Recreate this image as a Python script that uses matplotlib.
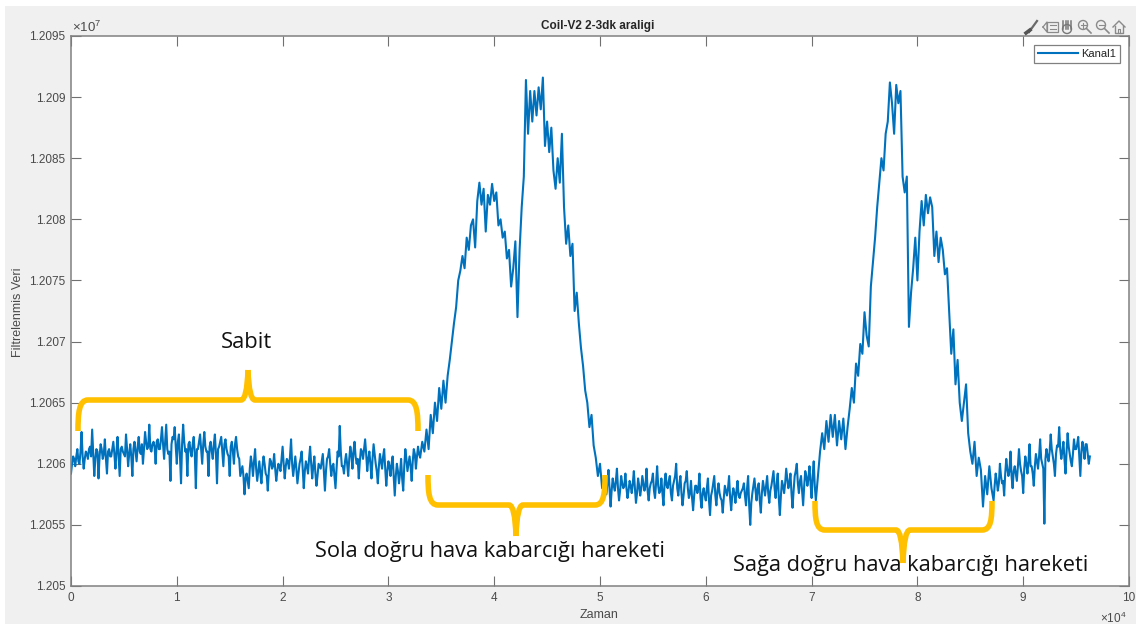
import numpy as np
import matplotlib
matplotlib.use('Agg')
import matplotlib.pyplot as plt
from matplotlib.patches import Rectangle, PathPatch, Circle
from matplotlib.path import Path

plt.rcParams['font.family'] = ['Liberation Sans', 'DejaVu Sans']
plt.rcParams['mathtext.default'] = 'regular'

# Kanal1 values, in hundreds of counts
# flat parts: two lists that take turns, one value every 100 samples
sabit = [
    120592, 120606, 120598, 120612, 120600, 120626, 120596, 120610, 120604, 120614,
    120628, 120590, 120612, 120588, 120616, 120604, 120620, 120592, 120612, 120606,
    120618, 120596, 120622, 120590, 120614, 120608, 120624, 120598, 120616, 120590,
    120618, 120602, 120622, 120608, 120600, 120626, 120612, 120632, 120610, 120618,
    120600, 120620, 120612, 120630, 120604, 120632, 120608, 120586, 120622, 120630,
    120600, 120624, 120584, 120632, 120610, 120590, 120618, 120606, 120622, 120580,
    120612, 120624, 120600, 120626, 120610, 120590, 120618, 120604, 120624, 120584,
    120614, 120622, 120598, 120620, 120608, 120590, 120618, 120600, 120622, 120606,
    120590, 120598, 120575, 120592, 120580, 120606, 120590, 120612, 120586, 120602,
    120584, 120606, 120592, 120578, 120604, 120596, 120608, 120586, 120600, 120594,
    120614, 120588, 120604, 120596, 120620, 120590, 120606, 120584, 120600, 120610,
    120580, 120602, 120592, 120614, 120588, 120606, 120582, 120600, 120596, 120608,
    120578, 120604, 120612, 120590, 120600, 120580, 120610, 120631, 120598, 120592,
    120608, 120590, 120614, 120596, 120618, 120600, 120588, 120612, 120604, 120620,
    120594, 120610, 120588, 120616, 120600, 120584, 120608, 120596, 120612, 120582,
    120602, 120590, 120606, 120574, 120600, 120584, 120604, 120578, 120612, 120594,
    120606, 120586, 120612, 120596, 120614,
]
sabit_ek = [
    120600, 120604, 120606, 120602, 120610, 120606, 120604, 120608, 120612, 120606,
    120608, 120604, 120610, 120606, 120612, 120608, 120604, 120610, 120606, 120612,
    120608, 120610, 120606, 120612, 120610, 120606, 120612, 120608, 120606, 120612,
    120610, 120614, 120610, 120616, 120612, 120618, 120614, 120612, 120616, 120614,
    120618, 120612, 120620, 120616, 120618, 120612, 120610, 120616, 120620, 120614,
    120618, 120606, 120616, 120618, 120612, 120616, 120610, 120616, 120608, 120612,
    120618, 120612, 120616, 120614, 120610, 120614, 120610, 120616, 120608, 120612,
    120618, 120610, 120616, 120612, 120606, 120614, 120610, 120616, 120612, 120604,
    120594, 120590, 120588, 120586, 120596, 120600, 120602, 120596, 120594, 120592,
    120598, 120600, 120590, 120594, 120602, 120598, 120596, 120594, 120598, 120604,
    120600, 120598, 120602, 120606, 120600, 120598, 120596, 120592, 120604, 120596,
    120594, 120598, 120604, 120600, 120598, 120592, 120590, 120598, 120602, 120594,
    120594, 120606, 120600, 120598, 120590, 120596, 120606, 120610, 120598, 120602,
    120600, 120604, 120608, 120610, 120606, 120604, 120602, 120610, 120612, 120608,
    120604, 120600, 120604, 120608, 120594, 120598, 120602, 120606, 120596, 120594,
    120598, 120600, 120590, 120590, 120594, 120592, 120588, 120598, 120604, 120600,
    120598, 120602, 120608, 120606, 120608,
]
# the two humps: one value every 200 samples
sola = [
    120605, 120618, 120610, 120628, 120612, 120640, 120625, 120650, 120635, 120662,
    120645, 120668, 120650, 120672, 120685, 120700, 120715, 120728, 120750, 120758,
    120770, 120760, 120785, 120775, 120795, 120800, 120777, 120815, 120830, 120812,
    120825, 120790, 120820, 120812, 120829, 120815, 120822, 120795, 120800, 120785,
    120790, 120768, 120775, 120745, 120760, 120782, 120720, 120775, 120810, 120835,
    120914, 120870, 120905, 120880, 120905, 120885, 120908, 120890, 120916, 120860,
    120880, 120855, 120875, 120840, 120825, 120850, 120830, 120870, 120810, 120780,
    120795, 120770, 120780, 120725, 120740, 120715, 120695, 120680, 120660, 120650,
    120630, 120640, 120615, 120605, 120590, 120600, 120580, 120590,
]
ara = [
    120575, 120595, 120565, 120588, 120578, 120596, 120570, 120590, 120580, 120592,
    120572, 120586, 120576, 120594, 120568, 120588, 120574, 120590, 120578, 120596,
    120570, 120584, 120592, 120572, 120598, 120576, 120588, 120566, 120592, 120580,
    120590, 120570, 120586, 120600, 120574, 120590, 120566, 120584, 120594, 120572,
    120586, 120562, 120582, 120576, 120592, 120564, 120580, 120570, 120588, 120558,
    120578, 120590, 120566, 120584, 120572, 120560, 120582, 120574, 120590, 120562,
    120580, 120568, 120586, 120572, 120578, 120584, 120566, 120590, 120550, 120576,
    120588, 120570, 120584, 120560, 120586, 120574, 120590, 120568, 120582, 120594,
    120572, 120592, 120558, 120586, 120576, 120596, 120580, 120592, 120564, 120590,
    120600, 120576, 120590, 120566, 120594, 120582, 120598, 120572, 120602, 120570,
]
ara_ek = [
    120584, 120580, 120578, 120582, 120586, 120580, 120578, 120584, 120582, 120580,
    120578, 120582, 120584, 120580, 120576, 120582, 120580, 120584, 120582, 120578,
    120580, 120586, 120578, 120584, 120582, 120578, 120576, 120584, 120582, 120586,
    120576, 120582, 120590, 120580, 120584, 120576, 120574, 120586, 120580, 120576,
    120572, 120574, 120582, 120580, 120572, 120576, 120574, 120580, 120570, 120574,
    120584, 120574, 120578, 120576, 120570, 120572, 120578, 120580, 120572, 120574,
    120576, 120578, 120574, 120576, 120580, 120574, 120580, 120566, 120568, 120582,
    120578, 120580, 120570, 120576, 120580, 120582, 120576, 120578, 120588, 120580,
    120584, 120572, 120574, 120582, 120584, 120588, 120584, 120576, 120578, 120594,
    120584, 120586, 120578, 120582, 120590, 120588, 120584, 120590, 120582, 120580,
]
saga = [
    120590, 120610, 120625, 120612, 120635, 120618, 120640, 120622, 120640, 120615,
    120635, 120620, 120637, 120612, 120630, 120645, 120662, 120650, 120682, 120672,
    120698, 120690, 120724, 120705, 120696, 120745, 120765, 120785, 120810, 120830,
    120850, 120840, 120870, 120880, 120912, 120895, 120870, 120910, 120895, 120905,
    120835, 120822, 120835, 120712, 120740, 120760, 120785, 120750, 120790, 120815,
    120795, 120820, 120805, 120818, 120810, 120770, 120790, 120765, 120785, 120775,
    120755, 120760, 120725, 120690, 120710, 120665, 120685, 120650, 120635, 120650,
    120665, 120625, 120610, 120600, 120618, 120590, 120605, 120595, 120565, 120590,
    120575, 120598, 120580,
]
son = [
    120570, 120592, 120578, 120600, 120584, 120574, 120604, 120590, 120610, 120580,
    120598, 120586, 120612, 120594, 120576, 120606, 120592, 120616, 120598, 120582,
    120608, 120596, 120620, 120600, 120551, 120612, 120602, 120624, 120606, 120590,
    120615, 120630, 120604, 120618, 120592, 120625, 120608, 120598, 120620, 120612,
    120622, 120590, 120618, 120604, 120616, 120600,
]
son_ek = [
    120582, 120586, 120584, 120590, 120586, 120592, 120596, 120594, 120590, 120594,
    120592, 120598, 120600, 120590, 120596, 120600, 120602, 120598, 120592, 120598,
    120602, 120606, 120604, 120596, 120604, 120606, 120610, 120612, 120600, 120608,
    120614, 120612, 120610, 120604, 120610, 120614, 120602, 120608, 120612, 120616,
    120606, 120610, 120612, 120616, 120608, 120606,
]

x_ticks = [0, 10000, 20000, 30000, 40000, 50000, 60000, 70000, 80000, 90000, 100000]
x_labels = ['0', '1', '2', '3', '4', '5', '6', '7', '8', '9', '10']
y_ticks = [12050000, 12055000, 12060000, 12065000, 12070000, 12075000, 12080000, 12085000, 12090000, 12095000]
y_labels = ['1.205', '1.2055', '1.206', '1.2065', '1.207', '1.2075', '1.208', '1.2085', '1.209', '1.2095']

MAVI = '#0072BD'
SARI = '#FFC000'
GRI = '#4a4a4a'
W, H = 1136, 624


def sirayla(a, b):
    # put two lists together, taking one value from each in turn
    return np.column_stack([a, b]).ravel()


fig = plt.figure(figsize=(W / 100, H / 100), dpi=100, facecolor='white')
fig.add_artist(Rectangle((5 / W, 0), 1 - 5 / W, 1 - 6 / H, transform=fig.transFigure,
                         facecolor='#f0f0f0', edgecolor='none', zorder=-1))

# plot box in pixels: x 71..1129, y 36..586
ax = fig.add_axes([71 / W, 1 - 586 / H, 1058 / W, 550 / H], facecolor='white', zorder=1)
parcalar = [(sirayla(sabit, sabit_ek), 100), (np.array(sola), 200), (sirayla(ara, ara_ek), 100),
            (np.array(saga), 200), (sirayla(son, son_ek), 100)]
x = []
y = []
bas = 0
for deger, adim in parcalar:
    x.append(bas + np.arange(len(deger)) * adim)
    y.append(deger * 100)
    bas = bas + len(deger) * adim
x = np.concatenate(x)
y = np.concatenate(y)
ax.plot(x, y, color=MAVI, lw=1.5, label='Kanal1')
ax.set_xlim(0, 100000)
ax.set_ylim(12050000, 12095000)
ax.set_xticks(x_ticks)
ax.set_xticklabels(x_labels)
ax.set_yticks(y_ticks)
ax.set_yticklabels(y_labels)
ax.tick_params(direction='in', length=7.5, width=0.8, color='#707070', labelcolor=GRI,
               labelsize=8.5, top=True, right=True, pad=4)
for s in ax.spines.values():
    s.set_color('#808080')
    s.set_linewidth(1.1)

leg = ax.legend(loc='upper right', bbox_to_anchor=((1120 - 71) / 1058, 1 - 9 / 550), borderaxespad=0,
                fontsize=8, frameon=True, fancybox=False, edgecolor='#808080', framealpha=1,
                handlelength=3.6, handletextpad=0.3, borderpad=0.35, labelcolor='#222222')
leg.get_frame().set_linewidth(0.9)

# everything else is placed in pixel coordinates on a see-through axes
top = fig.add_axes([0, 0, 1, 1], zorder=2)
top.set_xlim(0, W)
top.set_ylim(H, 0)
top.axis('off')
top.patch.set_alpha(0)

top.text(598, 26, 'Coil-V2 2-3dk araligi', ha='center', va='center', fontsize=8.5,
         fontweight='bold', color='#262626')
top.text(18, 312, 'Filtrelenmis Veri', ha='center', va='center', rotation=90, fontsize=9, color=GRI)
top.text(599, 615, 'Zaman', ha='center', va='center', fontsize=9, color=GRI)
top.text(72, 27, r'$\times 10^{7}$', ha='left', va='center', fontsize=9.5, color=GRI)
top.text(1100, 618, r'$\times 10^{4}$', ha='left', va='center', fontsize=8.5, color=GRI)


def brace(x0, x1, xm, y_end, y_bar, y_tip):
    # curly bracket made of two strokes that meet at the tip
    d = 1 if y_bar > y_end else -1
    kod = [Path.MOVETO, Path.CURVE4, Path.CURVE4, Path.CURVE4, Path.LINETO, Path.CURVE3, Path.CURVE3]
    sol = [(x0, y_end), (x0, y_end + d * 18), (x0 + 1, y_bar), (x0 + 10, y_bar),
           (xm - 7, y_bar), (xm - 1, y_bar), (xm, y_tip)]
    sag = [(x1, y_end), (x1, y_end + d * 18), (x1 - 1, y_bar), (x1 - 10, y_bar),
           (xm + 7, y_bar), (xm + 1, y_bar), (xm, y_tip)]
    for v in (sol, sag):
        top.add_patch(PathPatch(Path(v, kod), facecolor='none', edgecolor=SARI, lw=4, capstyle='butt'))


brace(78, 418, 248, 431, 400, 370)
brace(428, 605, 516, 475, 505, 536)
brace(815, 992, 903, 501, 530, 563)

YAZI = ['Open Sans', 'Noto Sans', 'DejaVu Sans']
top.text(246, 342, 'Sabit', ha='center', va='center', fontsize=15.8, family=YAZI, color='#111111')
top.text(490, 551, 'Sola doğru hava kabarcığı hareketi', ha='center', va='center', fontsize=15.7,
         family=YAZI, color='#111111')
top.text(911, 566, 'Sağa doğru hava kabarcığı hareketi', ha='center', va='center', fontsize=15.7,
         family=YAZI, color='#111111')

# figure toolbar icons
IKON = '#8a8a8a'
top.plot([1029, 1037], [32, 21], color='#6a6a6a', lw=1.6)
top.plot([1026, 1030], [33, 30], color='#555555', lw=2.6)
top.add_patch(Rectangle((1047, 22), 11, 10, fill=False, edgecolor=IKON, lw=0.9))
top.plot([1043, 1047, 1047, 1043], [27, 22, 32, 27], color=IKON, lw=0.9)
top.plot([1050, 1056], [25, 25], color=IKON, lw=0.8)
top.plot([1050, 1056], [29, 29], color=IKON, lw=0.8)
for hx in (1063, 1065.5, 1068, 1070.5):
    top.plot([hx, hx], [21, 29], color='#777777', lw=1.1)
top.add_patch(Circle((1067, 29), 4.5, fill=False, edgecolor='#777777', lw=1))
for cx, arti in ((1083, True), (1101, False)):
    top.add_patch(Circle((cx, 25), 4.5, fill=False, edgecolor=IKON, lw=1))
    top.plot([cx + 3.5, cx + 8], [28.5, 33], color=IKON, lw=1.2)
    top.plot([cx - 2.5, cx + 2.5], [25, 25], color=IKON, lw=0.8)
    if arti:
        top.plot([cx, cx], [22.5, 27.5], color=IKON, lw=0.8)
top.plot([1113, 1119, 1125], [27, 21, 27], color=IKON, lw=1)
top.plot([1115, 1115, 1123, 1123], [26, 33, 33, 26], color=IKON, lw=1)
top.plot([1118, 1118, 1120, 1120], [33, 29, 29, 33], color=IKON, lw=0.8)

fig.savefig('out.png', dpi=100)
